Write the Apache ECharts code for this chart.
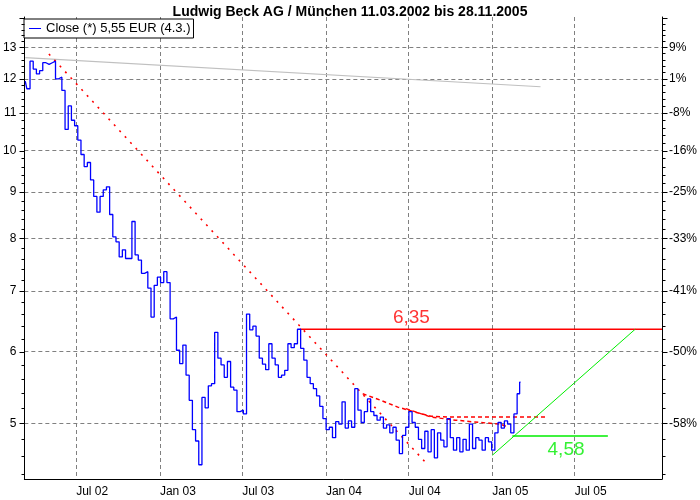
<!DOCTYPE html>
<html>
<head>
<meta charset="utf-8">
<script src="https://cdn.jsdelivr.net/npm/echarts@6/dist/echarts.min.js"></script>
<style>html,body{margin:0;padding:0;background:#fff}#c{width:700px;height:500px}</style>
</head>
<body>
<div id="c"></div>
<script>
// ---------------- data ----------------
const titleText = 'Ludwig Beck AG / München 11.03.2002 bis 28.11.2005';
const closeName = 'Close (*) 5,55 EUR (4.3.)';
// weekly closes starting Monday 11.03.2002, last point 04.03.2005
const closeStart = '2002-03-11';
const closeLastDate = '2005-03-04';
const closeValues = [
 11.93,11.70,12.55,12.30,12.15,12.25,12.50,12.45,12.50,12.55,
 12.00,12.05,11.65,10.55,11.20,10.80,10.65,10.27,9.90,9.60,
 9.70,9.28,8.90,8.55,8.90,9.05,9.12,8.50,8.03,7.93,
 7.63,7.77,7.60,7.60,8.35,7.67,7.57,7.32,7.35,7.05,
 6.55,7.10,7.25,7.15,7.35,7.15,6.52,6.55,6.02,5.82,
 6.10,5.65,5.30,4.92,4.78,4.50,5.34,5.20,5.50,5.53,
 6.30,5.90,5.80,5.62,5.85,5.48,5.44,5.15,5.17,5.12,
 6.60,6.34,6.40,6.24,5.90,5.81,5.73,6.12,5.90,5.80,
 5.62,5.65,5.72,6.12,6.06,6.12,6.35,6.05,5.87,5.62,
 5.53,5.46,5.36,5.22,5.06,4.92,4.95,4.82,5.02,4.99,
 5.28,4.94,5.03,4.95,5.46,5.17,5.01,5.15,5.32,5.15,
 5.10,5.04,5.08,4.94,4.98,4.88,4.95,4.79,4.63,4.85,
 4.95,5.15,5.01,4.95,4.80,4.69,4.90,4.65,4.92,4.58,
 4.88,4.79,4.71,5.06,4.82,4.67,4.82,4.65,4.80,4.67,
 4.99,4.69,4.82,4.79,4.67,4.82,4.77,4.67,4.88,5.01,
 4.94,5.03,4.99,4.88,5.12,5.39,5.55
];

const grayTrendDates = ['2002-03-11','2005-04-17'];
const grayTrendValues = [12.66, 11.76];
const redTrendDates = ['2002-05-02','2004-08-11'];
const redTrendValues = [12.78, 4.505];
const upperArcDates = ['2004-03-22','2004-05-01','2004-06-07','2004-07-12','2004-08-19','2004-09-24','2005-04-28'];
const upperArcValues = [5.39,5.30,5.21,5.15,5.09,5.08,5.08];
const lowerArcDates = ['2004-06-25','2004-08-19','2004-10-12','2004-12-06','2005-01-19','2005-02-05'];
const lowerArcValues = [5.19,5.08,5.04,5.01,4.99,4.95];
const resistDates = ['2003-11-05','2006-01-09'];
const resistValues = [6.35, 6.35];
const supportDates = ['2005-02-14','2005-09-12'];
const supportValues = [4.84, 4.84];
const riseDates = ['2005-01-01','2005-11-11'];
const riseValues = [4.61, 6.35];
const noteTexts = ['6,35','4,58'];
const noteDates = ['2004-07-07','2005-06-12'];
const noteValues = [6.53, 4.68];
const noteColors = ['#ff0000','#00ee00'];

const yMin = 4.34, yMax = 14.04;
const yTicks = [5,6,7,8,9,10,11,12,13];
const xMin = '2002-03-09', xMax = '2006-01-09';
const xTicks = ['2002-07-01','2003-01-01','2003-07-01','2004-01-01','2004-07-01','2005-01-01','2005-07-01'];

// ---------------- build ----------------
const DAY = 86400000;
function ts(s){return Date.parse(s+'T00:00:00Z');}
function pad(n){return (n<10?'0':'')+n;}
const t0 = ts(closeStart);
const closeData = closeValues.map((v,i)=>{
  const t = (i === closeValues.length-1) ? ts(closeLastDate) : t0 + i*7*DAY;
  return [t, v];
});
const zip = (d,v)=>d.map((x,i)=>[ts(x),v[i]]);

const minorTicks = [];
for (let k = 22; k <= 70; k++) { const v = k/5; if (v>=yMin && v<=yMax) minorTicks.push(v); }

const FONT = 'Liberation Sans, Arial, sans-serif';
const chart = echarts.init(document.getElementById('c'), null, {renderer:'canvas'});

function lineSeries(data, color, width, type, z){
  return {type:'line', data:data, symbol:'none', silent:true, animation:false,
    lineStyle:{color:color, width:width, type:type}, z:z||3};
}

const option = {
  animation:false,
  backgroundColor:'#fff',
  title:{text:titleText, left:'center', top:0,
    textStyle:{fontFamily:'Liberation Sans Narrow, Arial Narrow, Liberation Sans, sans-serif', fontWeight:'bold', fontSize:14, color:'#000'}},
  legend:{data:[closeName], left:24, top:19, orient:'horizontal',
    backgroundColor:'#fff', borderColor:'#000', borderWidth:1, borderRadius:0,
    padding:[2,3,2,5], itemWidth:12, itemHeight:1, icon:'rect', itemGap:5,
    textStyle:{fontFamily:FONT, fontSize:13, color:'#000', lineHeight:15}},
  grid:{left:22, right:38, top:17, bottom:21, containLabel:false},
  xAxis:{type:'value', min:ts(xMin), max:ts(xMax), scale:true,
    axisLine:{show:true, onZero:false, lineStyle:{color:'#000', width:1}},
    axisTick:{show:false, customValues:xTicks.map(ts)},
    axisLabel:{customValues:xTicks.map(ts), align:'left', margin:7, color:'#000', fontSize:12, fontFamily:FONT,
      formatter:function(v){const d=new Date(v);const m=d.getUTCMonth();return (m<3?'Jan ':'Jul ')+pad(d.getUTCFullYear()%100);}},
    splitLine:{show:true, lineStyle:{color:'#808080', type:[4,3], width:1}}},
  yAxis:[{type:'log', logBase:10, min:yMin, max:yMax, position:'left',
    axisLine:{show:true, lineStyle:{color:'#000', width:1}},
    axisTick:{show:false, customValues:yTicks},
    axisLabel:{customValues:yTicks, color:'#000', fontSize:12, margin:8, fontFamily:FONT},
    splitLine:{show:true, lineStyle:{color:'#808080', type:[4,3], width:1}},
    minorTick:{show:false}, minorSplitLine:{show:false}},
   {type:'log', logBase:10, min:yMin, max:yMax, position:'right',
    axisLine:{show:true, lineStyle:{color:'#000', width:1}},
    axisTick:{show:false, customValues:yTicks},
    axisLabel:{customValues:yTicks, color:'#000', fontSize:12, margin:7, fontFamily:FONT,
      formatter:function(v){return Math.round((v/closeValues[0]-1)*100)+'%';}},
    splitLine:{show:false}}],
  series:[
    lineSeries(zip(grayTrendDates,grayTrendValues), '#c0c0c0', 1.2, 'solid', 2),
    lineSeries(zip(redTrendDates,redTrendValues), '#ff0000', 1.6, [2,6], 3),
    lineSeries(zip(upperArcDates,upperArcValues), '#ff0000', 1.5, [4,3], 3),
    lineSeries(zip(lowerArcDates,lowerArcValues), '#ff0000', 1.5, [4,3], 3),
    lineSeries(zip(resistDates,resistValues), '#ff0000', 1.5, 'solid', 3),
    lineSeries(zip(supportDates,supportValues), '#00ee00', 1.5, 'solid', 3),
    lineSeries(zip(riseDates,riseValues), '#00ee00', 1, 'solid', 3),
    {name:closeName, type:'line', data:closeData, symbol:'none', animation:false, z:5, step:'middle',
      lineStyle:{color:'#0000ff', width:1.3}, itemStyle:{color:'#0000ff'}},
    {type:'scatter', data:noteTexts.map((t,i)=>({value:[ts(noteDates[i]),noteValues[i]], name:t,
        label:{color:noteColors[i]}})),
      symbolSize:1, silent:true, z:6,
      label:{show:true, position:'inside', fontSize:19, fontFamily:FONT,
        formatter:function(p){return p.name;}},
      itemStyle:{color:'rgba(0,0,0,0)'}},
    {type:'custom', clip:false, silent:true, z:4,
      data:minorTicks.map(v=>[ts(xMin), v]),
      renderItem:function(params, api){
        const v = api.value(1);
        const y = Math.round(api.coord([api.value(0), v])[1]) + 0.5;
        const cs = params.coordSys;
        const major = Math.abs(v - Math.round(v)) < 1e-6;
        const len = major ? 5 : 3;
        const xl = Math.round(cs.x)+0.5, xr = Math.round(cs.x+cs.width)+0.5;
        return {type:'group', children:[
          {type:'line', shape:{x1:xl-len, y1:y, x2:xl, y2:y}, style:{stroke:'#000', lineWidth:1}},
          {type:'line', shape:{x1:xr, y1:y, x2:xr+len, y2:y}, style:{stroke:'#000', lineWidth:1}}
        ]};
      }}
  ]
};
chart.setOption(option);
</script>
</body>
</html>
